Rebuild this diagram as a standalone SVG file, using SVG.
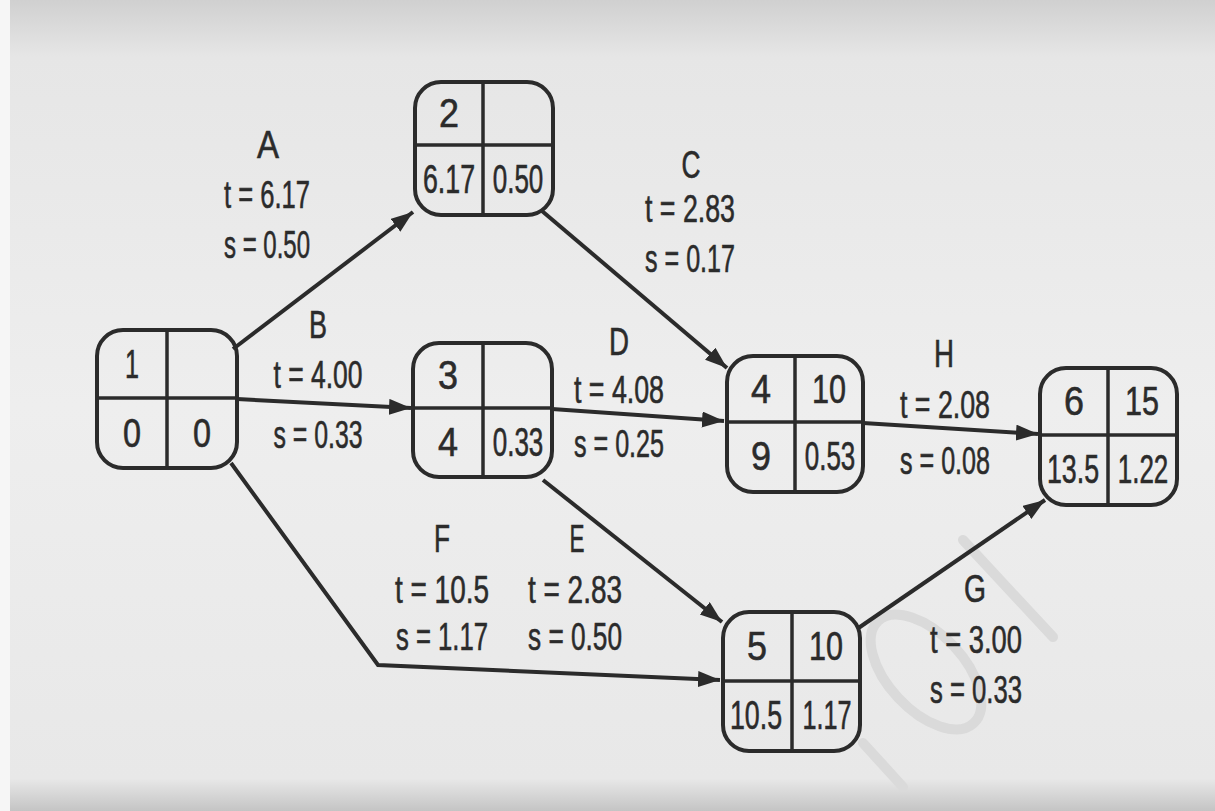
<svg xmlns="http://www.w3.org/2000/svg" width="1215" height="811" viewBox="0 0 1215 811">
<defs>
<linearGradient id="bg" x1="0" y1="0" x2="0" y2="1">
<stop offset="0" stop-color="#d0d0d0"/>
<stop offset="0.07" stop-color="#e6e6e6"/>
<stop offset="0.5" stop-color="#eeeeee"/>
<stop offset="0.96" stop-color="#e8e8e8"/>
<stop offset="1" stop-color="#c4c4c4"/>
</linearGradient>
<marker id="arr" markerUnits="userSpaceOnUse" markerWidth="24" markerHeight="18" refX="22" refY="8" orient="auto">
<path d="M0,0 L22,8 L0,16 Z" fill="#2b2b2b"/>
</marker>
<style>
.box{fill:none;stroke:#2b2b2b;stroke-width:4}
.div{stroke:#2b2b2b;stroke-width:3.5}
.nt{font-family:"Liberation Sans",Arial,sans-serif;font-size:40px;fill:#2b2b2b;stroke:#2b2b2b;stroke-width:0.6;text-anchor:middle}
.lb{font-family:"Liberation Sans",Arial,sans-serif;font-size:39px;fill:#2b2b2b;stroke:#2b2b2b;stroke-width:0.6;text-anchor:middle}
.edge{fill:none;stroke:#2b2b2b;stroke-width:4;marker-end:url(#arr)}
.wm{fill:none;stroke:#dadada;stroke-width:10;stroke-linecap:round}
</style>
</defs>
<rect x="0" y="0" width="1215" height="811" fill="url(#bg)"/>
<rect x="0" y="0" width="10" height="811" fill="#f6f6f6"/>
<g id="watermark">
<line class="wm" x1="963" y1="540" x2="1053" y2="637"/>
<ellipse class="wm" cx="926" cy="672" rx="70" ry="38" transform="rotate(47 926 672)"/>
<line class="wm" x1="863" y1="743" x2="903" y2="787"/>
</g>
<g id="connectors">
<line class="edge" x1="233" y1="349" x2="413" y2="212"/>
<line class="edge" x1="237" y1="399" x2="411" y2="408"/>
<line class="edge" x1="542" y1="211" x2="727" y2="368"/>
<line class="edge" x1="552" y1="409" x2="724" y2="421"/>
<line class="edge" x1="543" y1="480" x2="722" y2="622"/>
<polyline class="edge" points="231,463 378,665 720,680"/>
<line class="edge" x1="857" y1="629" x2="1045" y2="500"/>
<line class="edge" x1="863" y1="423" x2="1038" y2="434"/>
</g>
<g id="labels">
<text class="lb" x="268" y="158" textLength="22" lengthAdjust="spacingAndGlyphs">A</text>
<text class="lb" x="267" y="208" textLength="86" lengthAdjust="spacingAndGlyphs">t = 6.17</text>
<text class="lb" x="267" y="258" textLength="86" lengthAdjust="spacingAndGlyphs">s = 0.50</text>
<text class="lb" x="318" y="338" textLength="18" lengthAdjust="spacingAndGlyphs">B</text>
<text class="lb" x="318" y="388" textLength="89" lengthAdjust="spacingAndGlyphs">t = 4.00</text>
<text class="lb" x="318" y="448" textLength="89" lengthAdjust="spacingAndGlyphs">s = 0.33</text>
<text class="lb" x="691" y="178" textLength="19" lengthAdjust="spacingAndGlyphs">C</text>
<text class="lb" x="690" y="222" textLength="90" lengthAdjust="spacingAndGlyphs">t = 2.83</text>
<text class="lb" x="690" y="272" textLength="90" lengthAdjust="spacingAndGlyphs">s = 0.17</text>
<text class="lb" x="619" y="355" textLength="20" lengthAdjust="spacingAndGlyphs">D</text>
<text class="lb" x="619" y="403" textLength="90" lengthAdjust="spacingAndGlyphs">t = 4.08</text>
<text class="lb" x="619" y="457" textLength="90" lengthAdjust="spacingAndGlyphs">s = 0.25</text>
<text class="lb" x="944" y="367" textLength="20" lengthAdjust="spacingAndGlyphs">H</text>
<text class="lb" x="945" y="418" textLength="90" lengthAdjust="spacingAndGlyphs">t = 2.08</text>
<text class="lb" x="945" y="474" textLength="90" lengthAdjust="spacingAndGlyphs">s = 0.08</text>
<text class="lb" x="442" y="552" textLength="16" lengthAdjust="spacingAndGlyphs">F</text>
<text class="lb" x="442" y="603" textLength="94" lengthAdjust="spacingAndGlyphs">t = 10.5</text>
<text class="lb" x="442" y="650" textLength="92" lengthAdjust="spacingAndGlyphs">s = 1.17</text>
<text class="lb" x="577" y="552" textLength="15" lengthAdjust="spacingAndGlyphs">E</text>
<text class="lb" x="575" y="603" textLength="94" lengthAdjust="spacingAndGlyphs">t = 2.83</text>
<text class="lb" x="575" y="650" textLength="94" lengthAdjust="spacingAndGlyphs">s = 0.50</text>
<text class="lb" x="975" y="602" textLength="22" lengthAdjust="spacingAndGlyphs">G</text>
<text class="lb" x="976" y="653" textLength="92" lengthAdjust="spacingAndGlyphs">t = 3.00</text>
<text class="lb" x="976" y="703" textLength="92" lengthAdjust="spacingAndGlyphs">s = 0.33</text>
</g>
<g id="node1">
<rect class="box" x="97" y="330" width="140" height="138" rx="26"/>
<line class="div" x1="97" y1="398" x2="237" y2="398"/>
<line class="div" x1="167" y1="330" x2="167" y2="468"/>
<text class="nt" x="132" y="378" textLength="14" lengthAdjust="spacingAndGlyphs">1</text>
<text class="nt" x="132" y="447" textLength="18" lengthAdjust="spacingAndGlyphs">0</text>
<text class="nt" x="202" y="447" textLength="18" lengthAdjust="spacingAndGlyphs">0</text>
</g>
<g id="node2">
<rect class="box" x="415" y="82" width="138" height="133" rx="26"/>
<line class="div" x1="415" y1="145" x2="553" y2="145"/>
<line class="div" x1="483" y1="82" x2="483" y2="215"/>
<text class="nt" x="449" y="127" textLength="20" lengthAdjust="spacingAndGlyphs">2</text>
<text class="nt" transform="translate(449,193) scale(0.67,1)">6.17</text>
<text class="nt" transform="translate(518,193) scale(0.65,1)">0.50</text>
</g>
<g id="node3">
<rect class="box" x="413" y="343" width="139" height="134" rx="26"/>
<line class="div" x1="413" y1="408" x2="552" y2="408"/>
<line class="div" x1="483" y1="343" x2="483" y2="477"/>
<text class="nt" x="448" y="389" textLength="20" lengthAdjust="spacingAndGlyphs">3</text>
<text class="nt" x="448" y="456" textLength="20" lengthAdjust="spacingAndGlyphs">4</text>
<text class="nt" transform="translate(518,456) scale(0.65,1)">0.33</text>
</g>
<g id="node4">
<rect class="box" x="727" y="356" width="136" height="136" rx="26"/>
<line class="div" x1="727" y1="422" x2="863" y2="422"/>
<line class="div" x1="795" y1="356" x2="795" y2="492"/>
<text class="nt" x="761" y="403" textLength="20" lengthAdjust="spacingAndGlyphs">4</text>
<text class="nt" x="829" y="403" textLength="34" lengthAdjust="spacingAndGlyphs">10</text>
<text class="nt" x="761" y="470" textLength="20" lengthAdjust="spacingAndGlyphs">9</text>
<text class="nt" transform="translate(830,470) scale(0.65,1)">0.53</text>
</g>
<g id="node6">
<rect class="box" x="1040" y="368" width="137" height="137" rx="26"/>
<line class="div" x1="1040" y1="435" x2="1177" y2="435"/>
<line class="div" x1="1108" y1="368" x2="1108" y2="505"/>
<text class="nt" x="1074" y="415" textLength="20" lengthAdjust="spacingAndGlyphs">6</text>
<text class="nt" x="1142" y="415" textLength="34" lengthAdjust="spacingAndGlyphs">15</text>
<text class="nt" transform="translate(1073,483) scale(0.67,1)">13.5</text>
<text class="nt" transform="translate(1143,483) scale(0.65,1)">1.22</text>
</g>
<g id="node5">
<rect class="box" x="723" y="612" width="137" height="139" rx="26"/>
<line class="div" x1="723" y1="681" x2="860" y2="681"/>
<line class="div" x1="792" y1="612" x2="792" y2="751"/>
<text class="nt" x="757" y="660" textLength="20" lengthAdjust="spacingAndGlyphs">5</text>
<text class="nt" x="826" y="660" textLength="34" lengthAdjust="spacingAndGlyphs">10</text>
<text class="nt" transform="translate(756,729) scale(0.67,1)">10.5</text>
<text class="nt" transform="translate(827,729) scale(0.63,1)">1.17</text>
</g>
</svg>
